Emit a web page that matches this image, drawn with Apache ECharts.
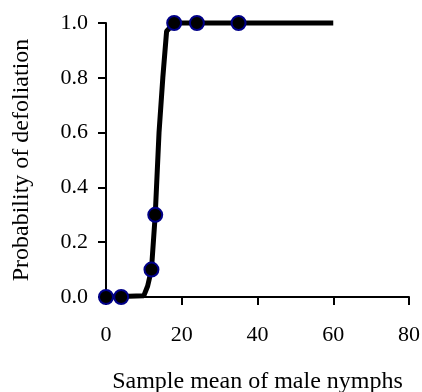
<!DOCTYPE html>
<html>
<head>
<meta charset="utf-8">
<script src="https://cdn.jsdelivr.net/npm/echarts@6/dist/echarts.min.js"></script>
<style>html,body{margin:0;padding:0;background:#fff}#c{width:422px;height:392px}</style>
</head>
<body>
<div id="c"></div>
<script>
// Observed points
var pointX = [0, 4, 12, 13, 18, 24, 35];
var pointY = [0, 0, 0.1, 0.3, 1.0, 1.0, 1.0];
// Fitted curve
var curveX = [0, 10, 11, 12, 13, 14, 15, 16, 18, 60];
var curveY = [0, 0.005, 0.04, 0.1, 0.3, 0.6, 0.8, 0.97, 1.0, 1.0];
// Axis ticks
var xTicks = [0, 20, 40, 60, 80];
var yTicks = [0.0, 0.2, 0.4, 0.6, 0.8, 1.0];
var xName = 'Sample mean of male nymphs';
var yName = 'Probability of defoliation';

var font = 'Liberation Serif';
var chart = echarts.init(document.getElementById('c'), null, {renderer: 'canvas'});
chart.setOption({
  animation: false,
  backgroundColor: '#fff',
  grid: {left: 106, right: 13, top: 23, bottom: 95, containLabel: false, outerBoundsMode: 'none'},
  xAxis: {
    type: 'value', min: xTicks[0], max: xTicks[xTicks.length - 1], interval: 20,
    name: xName, nameLocation: 'middle', nameGap: 73,
    nameTextStyle: {fontFamily: font, fontSize: 24, color: '#000'},
    axisLine: {show: true, onZero: false, lineStyle: {color: '#000', width: 2}},
    axisTick: {show: true, inside: false, length: 8, lineStyle: {color: '#000', width: 2}},
    axisLabel: {fontFamily: font, fontSize: 22, color: '#000', margin: 27},
    splitLine: {show: false}
  },
  yAxis: {
    type: 'value', min: 0, max: 1, interval: 0.2,
    name: yName, nameLocation: 'middle', nameGap: 72,
    nameTextStyle: {fontFamily: font, fontSize: 24, color: '#000'},
    axisLine: {show: true, onZero: false, lineStyle: {color: '#000', width: 2}},
    axisTick: {show: true, inside: false, length: 8, lineStyle: {color: '#000', width: 2}},
    axisLabel: {fontFamily: font, fontSize: 22, color: '#000', margin: 18,
      formatter: function (v) { return v.toFixed(1); }},
    splitLine: {show: false}
  },
  series: [
    {
      type: 'line',
      data: curveX.map(function (x, i) { return [x, curveY[i]]; }),
      showSymbol: false, symbol: 'none',
      lineStyle: {color: '#000', width: 5},
      clip: false, z: 2
    },
    {
      type: 'scatter',
      data: pointX.map(function (x, i) { return [x, pointY[i]]; }),
      symbol: 'circle', symbolSize: 14,
      itemStyle: {color: '#000', borderColor: '#000088', borderWidth: 2, opacity: 1},
      clip: false, z: 3
    }
  ]
});
</script>
</body>
</html>
